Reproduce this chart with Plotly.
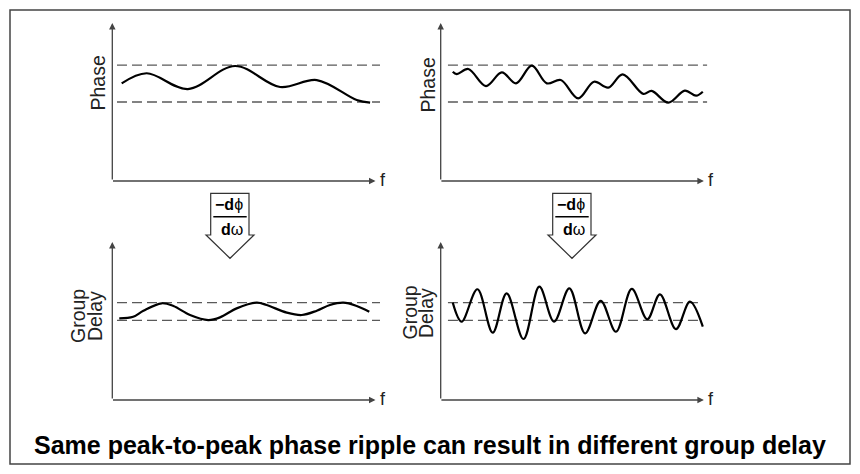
import plotly.graph_objects as go

W, H = 860, 474

# ---------------- data (panel units: f 0..100, value 0..100) ----------------
tl_f = [3.5, 12.8, 28.2, 45.8, 62.6, 76.3, 91.2, 96.2]
tl_phase = [61.8, 68.2, 58.2, 72.8, 59.5, 63.9, 51.3, 49.6]

tr_f = [4.5, 6.0, 10.3, 16.9, 22.8, 28.1, 34.0, 39.6, 44.8, 51.3, 57.2, 62.5,
        67.9, 75.6, 78.7, 84.9, 91.1, 95.3, 97.8]
tr_phase = [69.2, 67.7, 70.9, 60.1, 68.8, 61.8, 73.0, 61.8, 63.9, 52.3, 62.8, 59.1,
            67.5, 55.1, 57.0, 49.6, 57.2, 54.0, 56.5]

bl_f = [2.6, 7.8, 11.6, 18.4, 22.8, 29.0, 35.8, 40.2, 46.4, 53.9, 57.6, 65.1,
        70.7, 76.3, 81.2, 86.2, 91.2, 95.9]
bl_delay = [51.7, 52.7, 56.5, 61.2, 59.5, 53.8, 50.6, 52.3, 58.0, 61.6, 60.1, 55.3,
            53.8, 56.5, 60.1, 61.6, 59.5, 55.9]

br_f = [4.5, 7.8, 13.7, 19.4, 24.6, 30.9, 36.8, 42.3, 48.0, 53.9, 59.7, 65.4,
        71.3, 77.1, 81.8, 87.8, 93.0, 97.8]
br_delay = [61.6, 49.6, 70.1, 42.6, 67.5, 38.6, 71.7, 49.6, 70.7, 42.2, 62.8, 43.2,
            70.3, 51.1, 66.9, 44.9, 62.2, 46.4]

phase_band = [50.0, 73.4]      # peak-to-peak phase limits
delay_band = [50.4, 61.6]      # group delay reference limits
band_f = {"tl": [1.75, 99.9], "tr": [2.7, 99.4], "bl": [1.75, 99.9], "br": [2.7, 96.0]}

y_labels = {"tl": ["Phase"], "tr": ["Phase"], "bl": ["Group", "Delay"], "br": ["Group", "Delay"]}
title_text = "Same peak-to-peak phase ripple can result in different group delay"

# ---------------- layout helpers ----------------
def px(x):
    return x / W

def py(y):
    return 1 - y / H

panels = {
    # name: (axis suffix, left px, right px, top px, bottom px)
    "tl": ("", 112.3, 380.3, 23, 181),
    "tr": ("2", 440.7, 708.7, 23, 181),
    "bl": ("3", 112.3, 380.3, 242, 400),
    "br": ("4", 440.7, 708.7, 242, 400),
}
series = {
    "tl": (tl_f, tl_phase, phase_band),
    "tr": (tr_f, tr_phase, phase_band),
    "bl": (bl_f, bl_delay, delay_band),
    "br": (br_f, br_delay, delay_band),
}

fig = go.Figure()
annotations = []
shapes = []
AX = "#444444"

for name, (suf, x0, x1, yt, yb) in panels.items():
    xa, ya = "x" + suf, "y" + suf
    fig.update_layout(**{
        "xaxis" + suf: dict(domain=[px(x0), px(x1)], range=[0, 100], visible=False,
                            fixedrange=True),
        "yaxis" + suf: dict(domain=[py(yb), py(yt)], range=[0, 100], visible=False,
                            fixedrange=True),
    })
    f, v, band = series[name]
    for lvl in band:
        fig.add_trace(go.Scatter(x=band_f[name], y=[lvl, lvl], xaxis=xa, yaxis=ya,
                                 mode="lines", line=dict(color="#5a5a5a", width=1.3,
                                                         dash="10px,5px"),
                                 hoverinfo="skip", showlegend=False))
    fig.add_trace(go.Scatter(x=f, y=v, xaxis=xa, yaxis=ya, mode="lines",
                             line=dict(color="black", width=2.2, shape="spline",
                                       smoothing=1.0),
                             showlegend=False))
    # axes with arrows
    annotations.append(dict(x=0, y=100, ax=0, ay=0, xref=xa, yref=ya, axref=xa, ayref=ya,
                            text="", showarrow=True, arrowhead=2, arrowsize=1,
                            arrowwidth=1.3, arrowcolor=AX, standoff=0, startstandoff=0))
    annotations.append(dict(x=98.2, y=0, ax=-0.3, ay=0, xref=xa, yref=ya, axref=xa, ayref=ya,
                            text="", showarrow=True, arrowhead=2, arrowsize=1,
                            arrowwidth=1.3, arrowcolor=AX, standoff=0, startstandoff=0))
    # f label
    annotations.append(dict(x=px(x1 + 2.5), y=py(yb - 1.5), xref="paper", yref="paper",
                            text="f", showarrow=False, xanchor="center", yanchor="middle",
                            font=dict(size=18, color="#222", family="Liberation Sans, Arial")))

# y labels
label_pos = {
    "tl": [(97.5, 83)],
    "tr": [(427.5, 85)],
    "bl": [(78, 316), (95, 316)],
    "br": [(409.5, 313), (426, 313)],
}
for name, labs in y_labels.items():
    for txt, (lx, ly) in zip(labs, label_pos[name]):
        annotations.append(dict(x=px(lx), y=py(ly), xref="paper", yref="paper", text=txt,
                                textangle=-90, showarrow=False, xanchor="center",
                                yanchor="middle",
                                font=dict(size=19.5, color="#222",
                                          family="Liberation Sans, Arial")))

# derivative arrows (-dphi/domega)
for off in (0, 342):
    pts = [(210.7, 193.3), (249, 193.3), (249, 235), (254, 235), (230, 258.3),
           (206, 235), (210.7, 235)]
    path = "M " + " L ".join(f"{px(x + off):.5f},{py(y):.5f}" for x, y in pts) + " Z"
    shapes.append(dict(type="path", path=path, xref="paper", yref="paper",
                       line=dict(color="#333", width=1.2), fillcolor="white"))
    shapes.append(dict(type="line", xref="paper", yref="paper",
                       x0=px(213.3 + off), x1=px(246.7 + off), y0=py(216.7), y1=py(216.7),
                       line=dict(color="black", width=1.6)))
    annotations.append(dict(x=px(228.5 + off), y=py(205), xref="paper", yref="paper",
                            text="<b>\u2212d</b>\u03d5", showarrow=False,
                            xanchor="center", yanchor="middle",
                            font=dict(size=16, color="black",
                                      family="Liberation Sans, Arial")))
    annotations.append(dict(x=px(232 + off), y=py(229.5), xref="paper", yref="paper",
                            text="<b>d</b>\u03c9", showarrow=False,
                            xanchor="center", yanchor="middle",
                            font=dict(size=16, color="black",
                                      family="Liberation Sans, Arial")))

# outer frame
shapes.append(dict(type="rect", xref="paper", yref="paper", x0=px(10), x1=px(850),
                   y0=py(464), y1=py(10), line=dict(color="#444", width=1.5)))

# bottom caption
annotations.append(dict(x=px(430), y=py(445), xref="paper", yref="paper",
                        text="<b>" + title_text + "</b>", showarrow=False,
                        xanchor="center", yanchor="middle",
                        font=dict(size=25, color="black", family="Liberation Sans, Arial")))

fig.update_layout(width=W, height=H, margin=dict(l=0, r=0, t=0, b=0),
                  paper_bgcolor="white", plot_bgcolor="rgba(0,0,0,0)",
                  annotations=annotations, shapes=shapes, showlegend=False)

fig.write_html("out.html", config={"displayModeBar": False},
               post_script="document.body.style.margin='0';document.body.style.padding='0';")
